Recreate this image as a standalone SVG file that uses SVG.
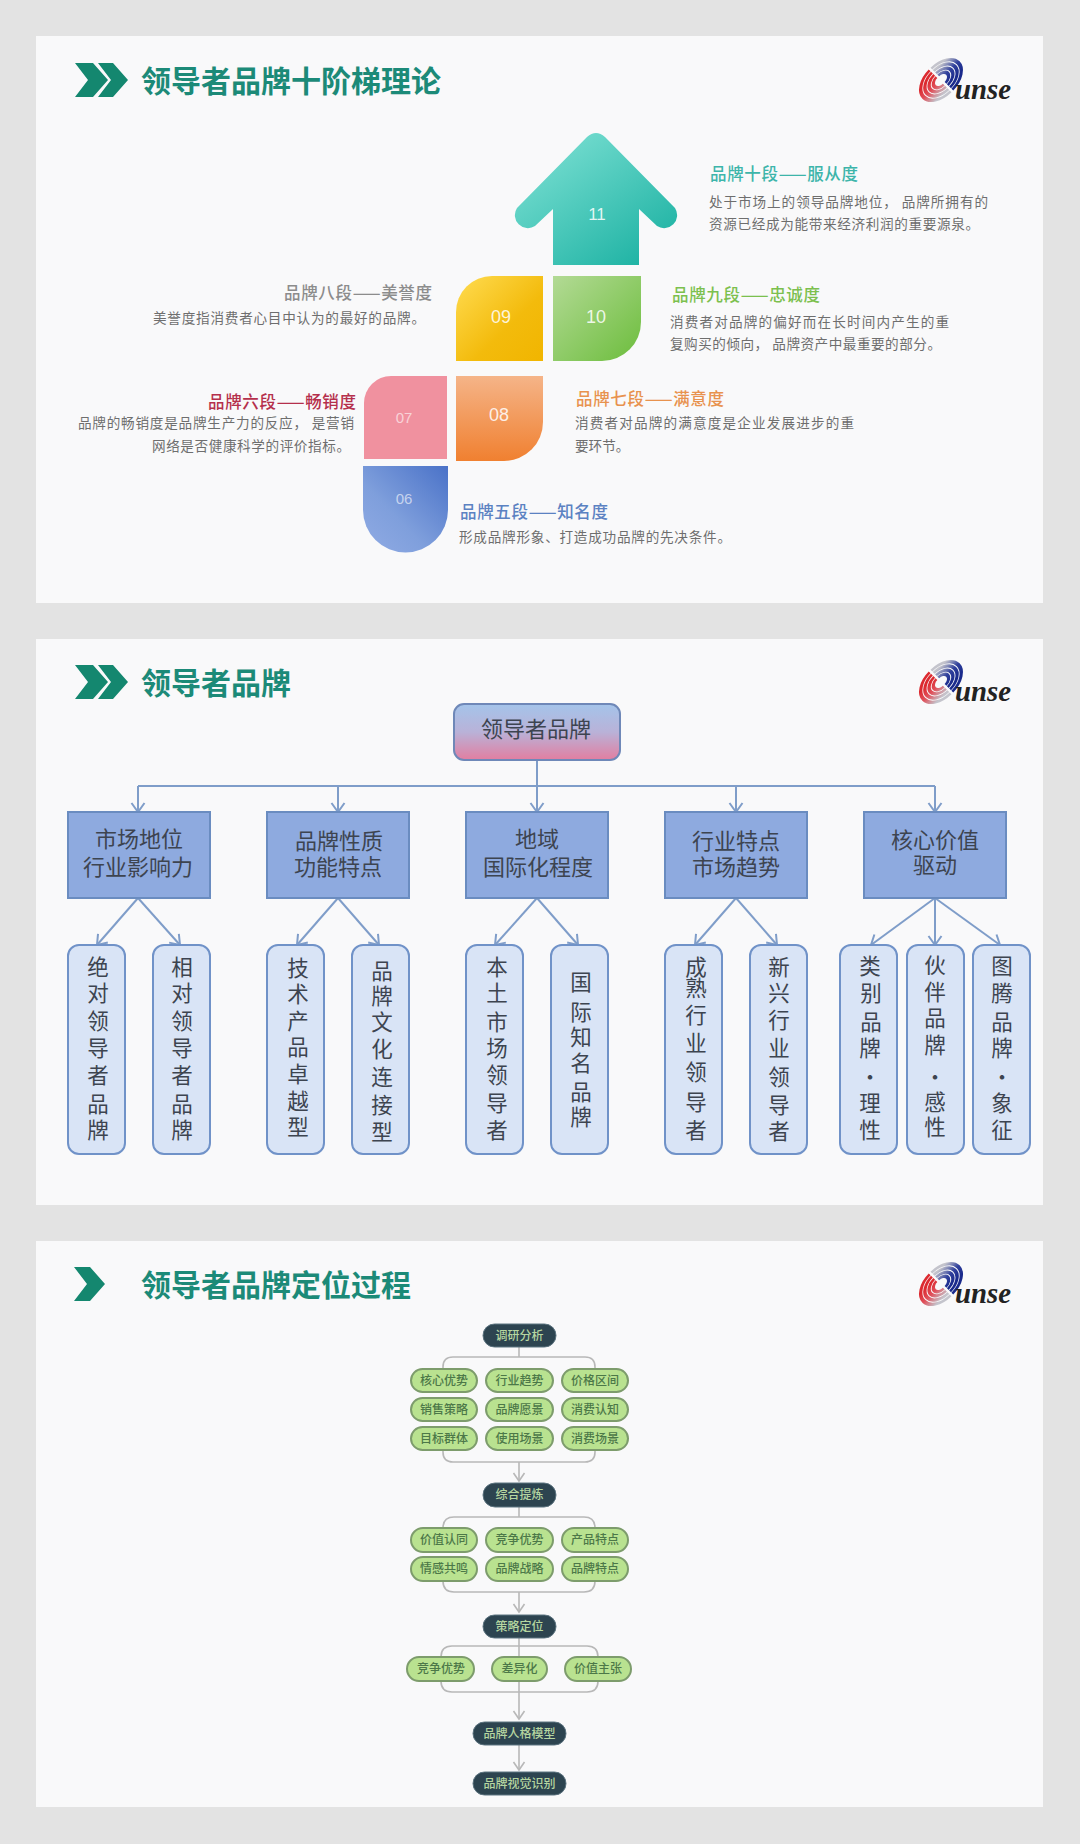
<svg xmlns="http://www.w3.org/2000/svg" width="1080" height="1844" viewBox="0 0 1080 1844">
<style>
text{font-family:"Noto Sans CJK SC","Noto Sans",sans-serif}
.panel{fill:#f9f9fa}
.title{font-size:30px;font-weight:700;fill:#1c8a78}
.chev{fill:#14876f}
.num{font-family:"Liberation Sans",sans-serif;fill:#fff;text-anchor:middle;fill-opacity:.85}
.h{font-size:16.5px;font-weight:500}
.b{font-size:13.6px;fill:#6e6e6e}
.root{stroke:#6f88b8;stroke-width:2}
.box{fill:#8eaadf;stroke:#6a8cc0;stroke-width:2}
.leaf{fill:#d9e4f6;stroke:#7092c8;stroke-width:2}
.t2{font-size:22px;fill:#3d4450;text-anchor:middle}
.t3{font-size:21.5px;fill:#3d4450;text-anchor:middle}
.dark{fill:#2d4450;stroke:#5d7480;stroke-width:1}
.darkt{font-size:12px;fill:#b6d6a0;text-anchor:middle;font-weight:500}
.pill{fill:#b9e290;stroke:#7d9c6c;stroke-width:2}
.pillt{font-size:12px;fill:#4c7848;text-anchor:middle;font-weight:500}
.c2{fill:none;stroke:#7f9dc9;stroke-width:2}
.c2a{marker-end:url(#ah)}
.c3{fill:none;stroke:#b8b8b8;stroke-width:1.6}
.c3a{marker-end:url(#ag)}
.logot{font-family:"Liberation Serif",serif;font-style:italic;font-weight:700;font-size:30px;fill:#222}
.lg{fill:none;stroke-width:3.2}
</style>
<defs>
<marker id="ah" markerUnits="userSpaceOnUse" markerWidth="14" markerHeight="16" refX="11" refY="8" orient="auto"><path d="M2 1.5L11 8L2 14.5" fill="none" stroke="#7f9dc9" stroke-width="2"/></marker>
<marker id="ag" markerUnits="userSpaceOnUse" markerWidth="12" markerHeight="14" refX="10" refY="7" orient="auto"><path d="M2 1.5L10 7L2 12.5" fill="none" stroke="#b8b8b8" stroke-width="1.6"/></marker>
<linearGradient id="g11" x1="0.15" y1="0.15" x2="0.85" y2="0.95"><stop offset="0" stop-color="#74dccf"/><stop offset="1" stop-color="#1fb3a4"/></linearGradient>
<linearGradient id="g09" x1="0" y1="0" x2="1" y2="1"><stop offset="0" stop-color="#ffdc52"/><stop offset=".6" stop-color="#f3bb0c"/><stop offset="1" stop-color="#f1b500"/></linearGradient>
<linearGradient id="g10" x1="0" y1="0" x2="1" y2="1"><stop offset="0" stop-color="#b3da95"/><stop offset="1" stop-color="#6cbd3c"/></linearGradient>
<linearGradient id="g08" x1="0" y1="0" x2="0" y2="1"><stop offset="0" stop-color="#f5b488"/><stop offset="1" stop-color="#f08030"/></linearGradient>
<linearGradient id="g06" x1="1" y1="0" x2="0" y2="1"><stop offset="0" stop-color="#4a72c8"/><stop offset=".6" stop-color="#7f9fdc"/><stop offset="1" stop-color="#90abe4"/></linearGradient>
<linearGradient id="groot" x1="0" y1="0" x2="0" y2="1"><stop offset="0" stop-color="#a4c4ea"/><stop offset=".5" stop-color="#b9b2d8"/><stop offset="1" stop-color="#e27ea0"/></linearGradient>
<linearGradient id="lr" gradientUnits="userSpaceOnUse" x1="0" y1="-10" x2="0" y2="14"><stop offset="0" stop-color="#dc2a30"/><stop offset=".45" stop-color="#e0505a"/><stop offset="1" stop-color="#c4c4cc"/></linearGradient>
<linearGradient id="lb" gradientUnits="userSpaceOnUse" x1="0" y1="10" x2="0" y2="-14"><stop offset="0" stop-color="#1a2a8c"/><stop offset=".45" stop-color="#30409c"/><stop offset="1" stop-color="#c4c4cc"/></linearGradient>
<g id="logo">
<g transform="translate(941 80) rotate(-45) scale(1.25 .8)">
<path class="lg" stroke="url(#lr)" d="M-1 -18.500A18.500 18.500 0 0 0 -1 18.500"/>
<path class="lg" stroke="url(#lr)" d="M-1 -14.500A14.500 14.500 0 0 0 -1 14.500"/>
<path class="lg" stroke="url(#lr)" d="M-1 -10.500A10.500 10.500 0 0 0 -1 10.500"/>
<path class="lg" stroke="url(#lr)" d="M-1 -6.500A6.500 6.500 0 0 0 -1 6.500"/>
<path class="lg" stroke="url(#lb)" d="M1 18.500A18.500 18.500 0 0 0 1 -18.500"/>
<path class="lg" stroke="url(#lb)" d="M1 14.500A14.500 14.500 0 0 0 1 -14.500"/>
<path class="lg" stroke="url(#lb)" d="M1 10.500A10.500 10.500 0 0 0 1 -10.500"/>
<path class="lg" stroke="url(#lb)" d="M1 6.500A6.500 6.500 0 0 0 1 -6.500"/>
</g>
<text class="logot" x="955" y="99" textLength="56" lengthAdjust="spacingAndGlyphs">unse</text>
</g>
<g id="chev2"><path class="chev" d="M75 63H93L108 80L93 97H75L88 80Z"/><path class="chev" d="M98 63H113L128 80L113 97H98L111 80Z"/></g>
</defs>

<rect width="1080" height="1844" fill="#e3e3e3"/>
<rect class="panel" x="36" y="36" width="1007" height="567"/>
<rect class="panel" x="36" y="639" width="1007" height="566"/>
<rect class="panel" x="36" y="1241" width="1007" height="566"/>

<g id="header1"><use href="#chev2"/><text class="title" x="141" y="92">领导者品牌十阶梯理论</text><use href="#logo"/></g>
<g id="header2"><use href="#chev2" y="602"/><text class="title" x="141" y="694">领导者品牌</text><use href="#logo" y="602"/></g>
<g id="header3"><path class="chev" transform="translate(0 1204)" d="M74 63H90L105 80L90 97H74L87 80Z"/><text class="title" x="141" y="1296">领导者品牌定位过程</text><use href="#logo" y="1204"/></g>

<g id="step11"><path d="M553 265V209L535 226A13 13 0 0 1 517 208L587 137Q596 129 605 137L675 208A13 13 0 0 1 657 226L639 209V265Z" fill="url(#g11)"/><text class="num" x="597" y="220" font-size="17">11</text>
<text class="h" x="710" y="180" textLength="148" fill="#3db5aa">品牌十段——服从度</text>
<text class="b" x="709" y="207" textLength="279">处于市场上的领导品牌地位， 品牌所拥有的</text>
<text class="b" x="709" y="229" textLength="270">资源已经成为能带来经济利润的重要源泉。</text></g>

<g id="step10"><path d="M553 276H641V322A39 39 0 0 1 602 361H553Z" fill="url(#g10)"/><text class="num" x="596" y="323" font-size="18">10</text>
<text class="h" x="672" y="301" textLength="148" fill="#7cc04e">品牌九段——忠诚度</text>
<text class="b" x="670" y="327" textLength="279">消费者对品牌的偏好而在长时间内产生的重</text>
<text class="b" x="670" y="349" textLength="271">复购买的倾向， 品牌资产中最重要的部分。</text></g>

<g id="step09"><path d="M456 361V312A36 36 0 0 1 492 276H543V361Z" fill="url(#g09)"/><text class="num" x="501" y="323" font-size="18">09</text>
<text class="h" x="284" y="299" textLength="148" fill="#8c8c8c">品牌八段——美誉度</text>
<text class="b" x="153" y="323" textLength="272">美誉度指消费者心目中认为的最好的品牌。</text></g>

<g id="step08"><path d="M456 376H543V422A39 39 0 0 1 504 461H456Z" fill="url(#g08)"/><text class="num" x="499" y="421" font-size="18">08</text>
<text class="h" x="576" y="405" textLength="148" fill="#e8924e">品牌七段——满意度</text>
<text class="b" x="575" y="428" textLength="279">消费者对品牌的满意度是企业发展进步的重</text>
<text class="b" x="575" y="451">要环节。</text></g>

<g id="step07"><path d="M364 459V403A27 27 0 0 1 391 376H447V459Z" fill="#f0919f"/><text class="num" x="404" y="423" font-size="15" style="fill-opacity:.6">07</text>
<text class="h" x="208" y="408" textLength="148" fill="#b5304c" font-weight="700">品牌六段——畅销度</text>
<text class="b" x="78" y="428" textLength="276">品牌的畅销度是品牌生产力的反应， 是营销</text>
<text class="b" x="152" y="451" textLength="198">网络是否健康科学的评价指标。</text></g>

<g id="step06"><path d="M363 466H448V510A42.500 42.500 0 0 1 363 510Z" fill="url(#g06)"/><text class="num" x="404" y="504" font-size="15" style="fill-opacity:.6">06</text>
<text class="h" x="460" y="518" textLength="148" fill="#5c82c2">品牌五段——知名度</text>
<text class="b" x="459" y="542" textLength="272">形成品牌形象、打造成功品牌的先决条件。</text></g>

<g id="connectors2">
<path class="c2" d="M537 760V786"/>
<path class="c2" d="M138 786H935"/>
<path class="c2 c2a" d="M138 786V812"/><path class="c2 c2a" d="M338 786V812"/><path class="c2 c2a" d="M537 786V812"/><path class="c2 c2a" d="M736 786V812"/><path class="c2 c2a" d="M935 786V812"/>
<path class="c2 c2a" d="M138 898L97 945"/><path class="c2 c2a" d="M138 898L180 945"/>
<path class="c2 c2a" d="M338 898L297 945"/><path class="c2 c2a" d="M338 898L379 945"/>
<path class="c2 c2a" d="M537 898L495 945"/><path class="c2 c2a" d="M537 898L578 945"/>
<path class="c2 c2a" d="M736 898L695 945"/><path class="c2 c2a" d="M736 898L777 945"/>
<path class="c2 c2a" d="M935 898L871 945"/><path class="c2 c2a" d="M935 898V945"/><path class="c2 c2a" d="M935 898L1000 945"/>
</g>

<g id="root"><rect class="root" x="454" y="704" width="166" height="56" rx="10" fill="url(#groot)"/><text class="t2" x="536" y="737">领导者品牌</text></g>
<g id="b1"><rect class="box" x="68" y="812" width="142" height="86"/><text class="t2"><tspan x="139" y="847">市场地位</tspan><tspan x="138" y="875">行业影响力</tspan></text></g>
<g id="b2"><rect class="box" x="267" y="812" width="142" height="86"/><text class="t2"><tspan x="339" y="849">品牌性质</tspan><tspan x="338" y="875">功能特点</tspan></text></g>
<g id="b3"><rect class="box" x="466" y="812" width="142" height="86"/><text class="t2"><tspan x="537" y="847">地域</tspan><tspan x="538" y="875">国际化程度</tspan></text></g>
<g id="b4"><rect class="box" x="665" y="812" width="142" height="86"/><text class="t2"><tspan x="736" y="849">行业特点</tspan><tspan x="736" y="875">市场趋势</tspan></text></g>
<g id="b5"><rect class="box" x="864" y="812" width="142" height="86"/><text class="t2"><tspan x="935" y="848">核心价值</tspan><tspan x="935" y="873">驱动</tspan></text></g>

<g id="l1"><rect class="leaf" x="68" y="945" width="57" height="209" rx="11"/><text class="t3" x="98 98 98 98 98 98 98" y="975 1001 1029 1056 1083 1112 1138">绝对领导者品牌</text></g>
<g id="l2"><rect class="leaf" x="153" y="945" width="57" height="209" rx="11"/><text class="t3" x="182 182 182 182 182 182 182" y="975 1001 1029 1056 1083 1112 1138">相对领导者品牌</text></g>
<g id="l3"><rect class="leaf" x="267" y="945" width="57" height="209" rx="11"/><text class="t3" x="298 298 298 298 298 298 298" y="976 1002 1029 1055 1082 1109 1135">技术产品卓越型</text></g>
<g id="l4"><rect class="leaf" x="352" y="945" width="57" height="209" rx="11"/><text class="t3" x="382 382 382 382 382 382 382" y="979 1004 1030 1057 1085 1113 1140">品牌文化连接型</text></g>
<g id="l5"><rect class="leaf" x="466" y="945" width="57" height="209" rx="11"/><text class="t3" x="497 497 497 497 497 497 497" y="975 1001 1030 1056 1083 1111 1138">本土市场领导者</text></g>
<g id="l6"><rect class="leaf" x="551" y="945" width="57" height="209" rx="11"/><text class="t3" x="581 581 581 581 581 581" y="990 1020 1045 1071 1100 1125">国际知名品牌</text></g>
<g id="l7"><rect class="leaf" x="665" y="945" width="57" height="209" rx="11"/><text class="t3" x="696 696 696 696 696 696 696" y="975 996 1023 1051 1080 1110 1138">成熟行业领导者</text></g>
<g id="l8"><rect class="leaf" x="750" y="945" width="57" height="209" rx="11"/><text class="t3" x="779 779 779 779 779 779 779" y="975 1001 1028 1056 1085 1113 1139">新兴行业领导者</text></g>
<g id="l9"><rect class="leaf" x="840" y="945" width="57" height="209" rx="11"/><text class="t3" x="870 871 871 870 870 870 870" y="974 1001 1030 1056 1085 1111 1138">类别品牌·理性</text></g>
<g id="l10"><rect class="leaf" x="907" y="945" width="57" height="209" rx="11"/><text class="t3" x="935 935 935 935 935 935 935" y="973 1000 1026 1053 1085 1110 1135">伙伴品牌·感性</text></g>
<g id="l11"><rect class="leaf" x="973" y="945" width="57" height="209" rx="11"/><text class="t3" x="1002 1002 1002 1002 1002 1002 1002" y="974 1001 1030 1056 1085 1111 1138">图腾品牌·象征</text></g>

<g id="connectors3">
<path class="c3" d="M519 1347V1357M443 1369V1367Q443 1357 453 1357H585Q595 1357 595 1367V1369"/>
<path class="c3" d="M443 1450V1452Q443 1462 453 1462H585Q595 1462 595 1452V1450"/>
<path class="c3 c3a" d="M519 1462V1481"/>
<path class="c3" d="M519 1507V1517M443 1528Q443 1517 454 1517H584Q595 1517 595 1528"/>
<path class="c3" d="M443 1581Q443 1592 454 1592H584Q595 1592 595 1581"/>
<path class="c3 c3a" d="M519 1592V1612"/>
<path class="c3" d="M519 1638V1657M441 1657Q441 1646 452 1646H587Q598 1646 598 1657"/>
<path class="c3" d="M441 1681Q441 1692 452 1692H587Q598 1692 598 1681"/>
<path class="c3 c3a" d="M519 1681V1719"/>
<path class="c3 c3a" d="M519 1745V1770"/>
</g>

<g id="f1"><rect class="dark" x="483" y="1324" width="73" height="23" rx="11.500"/><text class="darkt" x="519.500" y="1340">调研分析</text></g>
<g id="p11"><rect class="pill" x="411" y="1369" width="66" height="23" rx="11.500"/><text class="pillt" x="444" y="1385">核心优势</text></g>
<g id="p12"><rect class="pill" x="486" y="1369" width="67" height="23" rx="11.500"/><text class="pillt" x="519.500" y="1385">行业趋势</text></g>
<g id="p13"><rect class="pill" x="562" y="1369" width="66" height="23" rx="11.500"/><text class="pillt" x="595" y="1385">价格区间</text></g>
<g id="p14"><rect class="pill" x="411" y="1398" width="66" height="23" rx="11.500"/><text class="pillt" x="444" y="1414">销售策略</text></g>
<g id="p15"><rect class="pill" x="486" y="1398" width="67" height="23" rx="11.500"/><text class="pillt" x="519.500" y="1414">品牌愿景</text></g>
<g id="p16"><rect class="pill" x="562" y="1398" width="66" height="23" rx="11.500"/><text class="pillt" x="595" y="1414">消费认知</text></g>
<g id="p17"><rect class="pill" x="411" y="1427" width="66" height="23" rx="11.500"/><text class="pillt" x="444" y="1443">目标群体</text></g>
<g id="p18"><rect class="pill" x="486" y="1427" width="67" height="23" rx="11.500"/><text class="pillt" x="519.500" y="1443">使用场景</text></g>
<g id="p19"><rect class="pill" x="562" y="1427" width="66" height="23" rx="11.500"/><text class="pillt" x="595" y="1443">消费场景</text></g>

<g id="f2"><rect class="dark" x="483" y="1483" width="73" height="24" rx="12"/><text class="darkt" x="519.500" y="1499">综合提炼</text></g>
<g id="p21"><rect class="pill" x="411" y="1528" width="66" height="24" rx="12"/><text class="pillt" x="444" y="1544">价值认同</text></g>
<g id="p22"><rect class="pill" x="486" y="1528" width="67" height="24" rx="12"/><text class="pillt" x="519.500" y="1544">竞争优势</text></g>
<g id="p23"><rect class="pill" x="562" y="1528" width="66" height="24" rx="12"/><text class="pillt" x="595" y="1544">产品特点</text></g>
<g id="p24"><rect class="pill" x="411" y="1557" width="66" height="24" rx="12"/><text class="pillt" x="444" y="1573">情感共鸣</text></g>
<g id="p25"><rect class="pill" x="486" y="1557" width="67" height="24" rx="12"/><text class="pillt" x="519.500" y="1573">品牌战略</text></g>
<g id="p26"><rect class="pill" x="562" y="1557" width="66" height="24" rx="12"/><text class="pillt" x="595" y="1573">品牌特点</text></g>

<g id="f3"><rect class="dark" x="483" y="1615" width="73" height="23" rx="11.500"/><text class="darkt" x="519.500" y="1631">策略定位</text></g>
<g id="p31"><rect class="pill" x="407" y="1657" width="67" height="24" rx="12"/><text class="pillt" x="441" y="1673">竞争优势</text></g>
<g id="p32"><rect class="pill" x="492" y="1657" width="55" height="24" rx="12"/><text class="pillt" x="519.500" y="1673">差异化</text></g>
<g id="p33"><rect class="pill" x="565" y="1657" width="66" height="24" rx="12"/><text class="pillt" x="598" y="1673">价值主张</text></g>

<g id="f4"><rect class="dark" x="473" y="1722" width="93" height="23" rx="11.500"/><text class="darkt" x="519.500" y="1738">品牌人格模型</text></g>
<g id="f5"><rect class="dark" x="473" y="1772" width="93" height="23" rx="11.500"/><text class="darkt" x="519.500" y="1788">品牌视觉识别</text></g>
</svg>
